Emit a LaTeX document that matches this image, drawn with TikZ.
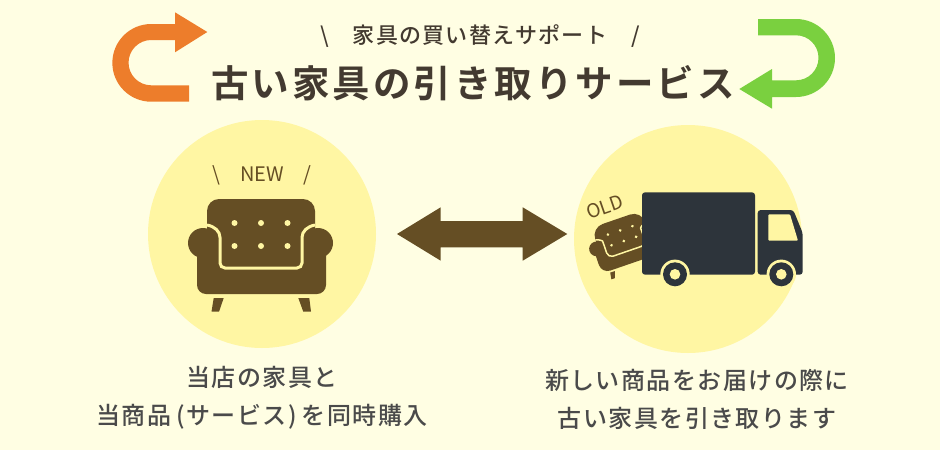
\documentclass[tikz,border=0pt]{standalone}
\usepackage{fontspec}
\setmainfont{Noto Sans CJK JP}
\newfontfamily\titlefont[LetterSpace=8]{Noto Sans CJK JP Bold}
\newfontfamily\bodyfont[LetterSpace=6]{Noto Sans CJK JP Medium}
\usetikzlibrary{positioning}
\definecolor{bgcol}{HTML}{FFFEE3}
\definecolor{circlecol}{HTML}{FFF6A3}
\definecolor{browncol}{HTML}{654E24}
\definecolor{truckcol}{HTML}{2D343B}
\definecolor{orangecol}{HTML}{ED7D2B}
\definecolor{greencol}{HTML}{7AD03F}
\definecolor{titlecol}{HTML}{433A30}
\definecolor{textcol}{HTML}{4A4A4A}
% sofa around its middle, #1 = width of the light seam
\newcommand{\sofa}[1]{
\fill[browncol,rounded corners=12] (-54,20) -- (-54,-35.5) -- (54,-35.5) -- (54,20) -- cycle;
\fill[browncol] (-58,8.5) circle (15) (57,8.5) circle (15);
\fill[browncol,rounded corners=9] (-64,5) rectangle (65,59.5);
\draw[circlecol,line width=#1,rounded corners=5] (-54,-9.5) .. controls (-46,-8) and (-41,-3) .. (-41,8) -- (-41,33.5) -- (41,33.5) -- (41,8) .. controls (41,-3) and (46,-8) .. (54,-9.5);
\foreach \xb in {-26.5,0,26.5} \foreach \yb in {-11.5,11.5}
    \fill[circlecol] (\xb,\yb) circle (3);
\fill[browncol] (-49.5,77.2) -- (-47.3,63.5) -- (-37.3,63.5) -- (-42,77.2) -- cycle;
\fill[browncol] (37.3,63.5) -- (48.3,63.5) -- (50,77.2) -- (42.3,77.2) -- cycle;
}
\begin{document}
\begin{tikzpicture}
    [
    x=1pt,y=-1pt,
    caption/.style = {font=\bodyfont\fontsize{24}{38}\selectfont,text=textcol,align=center,inner sep=0pt}
    ]
\useasboundingbox (0,0) rectangle (940,450);
\fill[bgcol] (0,0) rectangle (940,450);

% turning arrows
\fill[orangecol] (189,101.7) -- (151.2,101.7) arc[start angle=90,end angle=270,radius=38.85]
    -- (175,24) -- (175,12.3) -- (207.3,32) -- (175,52.3) -- (175,40) -- (151.2,40)
    arc[start angle=270,end angle=90,radius=22.65] -- (189,85.3) -- cycle;
\fill[greencol] (758,19) -- (796,19) arc[start angle=-90,end angle=90,radius=39]
    -- (772,97) -- (772,108.7) -- (739.3,89) -- (772,69) -- (772,80.3) -- (796,80.3)
    arc[start angle=90,end angle=-90,radius=22.5] -- (758,35.3) -- cycle;

\node[font=\bodyfont\fontsize{22}{25}\selectfont,text=titlecol,inner sep=0pt] (subtitle) at (480,36)
    {\textbackslash\hspace{24pt}家具の買い替えサポート\hspace{24pt}/};
\node[font=\titlefont\fontsize{37.5}{40}\selectfont,text=titlecol,inner sep=0pt] (title) at (473,83.5)
    {古い家具の引き取りサービス};

\fill[circlecol] (262,234) circle (114);
\fill[circlecol] (688,239) circle (114);

\node[font=\fontsize{20}{23}\selectfont,text=browncol,inner sep=0pt] (newlabel) at (262,175)
    {\textbackslash\hspace{20pt}NEW\hspace{20pt}/};
\begin{scope}[shift={(261,234.5)}]
\sofa{3}
\end{scope}

% old sofa goes behind the truck
\begin{scope}[shift={(622,235.7)},rotate=19,scale=0.49]
\sofa{1.5}
\end{scope}
\node[font=\fontsize{19}{23}\selectfont,text=browncol,inner sep=0pt,rotate=19] (oldlabel) at (605,207) {OLD};

% truck
\fill[truckcol,rounded corners=3] (642,192.3) rectangle (755,274.7);
\fill[truckcol,rounded corners=3] (757.7,274.7) -- (757.7,210) -- (793.3,210) -- (802.7,233) -- (802.7,274.7) -- cycle;
\fill[circlecol,rounded corners=1] (768.3,214.3) -- (790,214.3) -- (798,240.7) -- (768.3,240.7) -- cycle;
\foreach \xw in {675,781.3} {
    \fill[circlecol] (\xw,274.3) circle (14.7);
    \fill[truckcol] (\xw,274.3) circle (12);
    \fill[circlecol] (\xw,274.3) circle (5.3);
}

\fill[browncol] (397,234) -- (440.7,207.3) -- (440.7,221) -- (522.7,221) -- (522.7,207.3) -- (567.3,234)
    -- (522.7,260.7) -- (522.7,247.3) -- (440.7,247.3) -- (440.7,260.7) -- cycle;

\node[caption] (leftcap) at (262,398) {当店の家具と\\当商品\hspace{5pt}(サービス)\hspace{5pt}を同時購入};
\node[caption] (rightcap) at (697,399) {新しい商品をお届けの際に\\古い家具を引き取ります};
\end{tikzpicture}
\end{document}
